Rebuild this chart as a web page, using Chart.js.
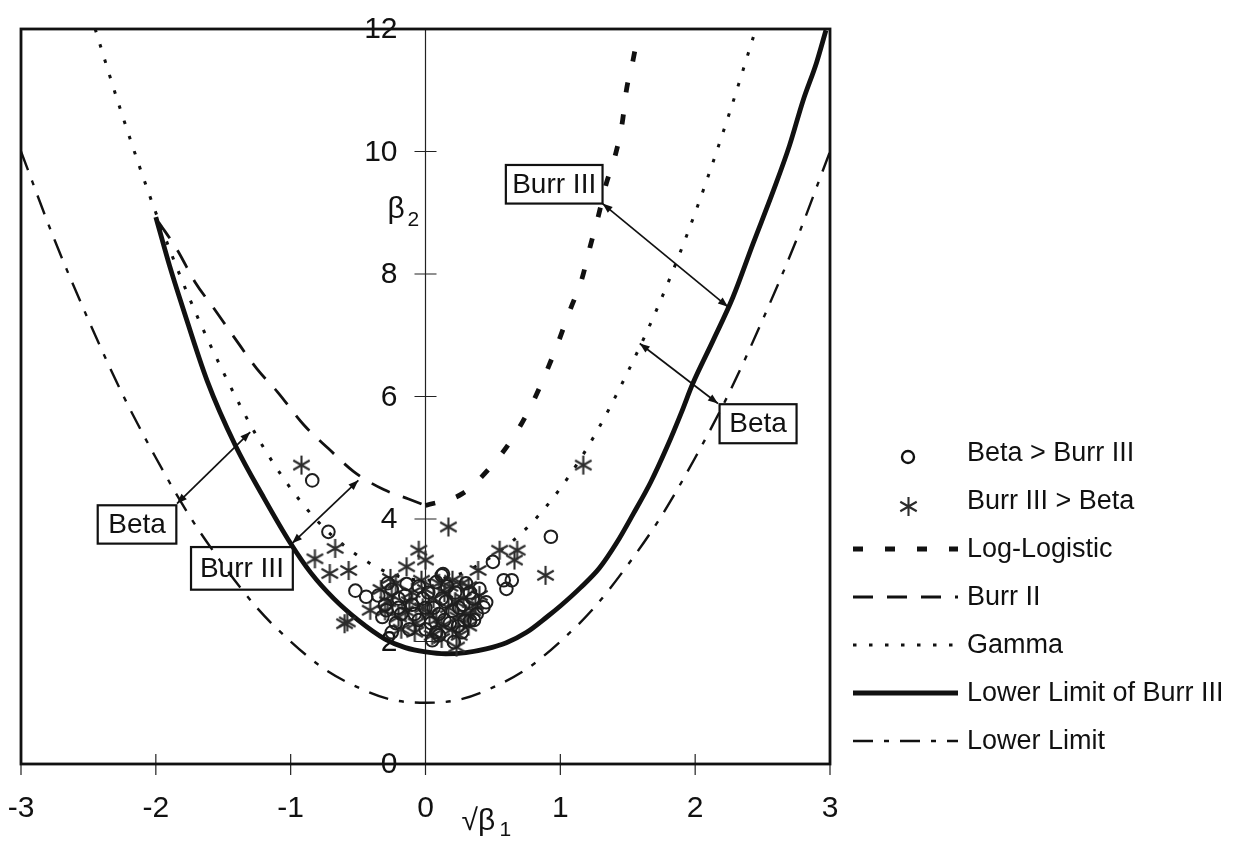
<!DOCTYPE html>
<html>
<head>
<meta charset="utf-8">
<script src="https://cdn.jsdelivr.net/npm/chart.js@4.4.1/dist/chart.umd.min.js"></script>
<style>
  html, body { margin: 0; padding: 0; background: #fff; }
</style>
</head>
<body>
<canvas id="chart" width="1241" height="846"></canvas>
<script>
const FONT = "'Liberation Sans', Arial, Helvetica, sans-serif";

const xTicks = [-3, -2, -1, 0, 1, 2, 3];
const yTicks = [0, 2, 4, 6, 8, 10, 12];

// sample points, (sqrt b1, b2)
const betaBetter = [
  [-0.84, 4.63], [-0.72, 3.79], [-0.52, 2.83], [-0.44, 2.73], [-0.29, 2.51], [-0.25, 2.15],
  [0.05, 2.02], [0.21, 1.99], [0.12, 3.08], [0.08, 2.97], [-0.14, 2.94], [0.13, 3.10],
  [0.50, 3.30], [0.58, 3.00], [0.64, 3.00], [0.60, 2.86], [0.40, 2.86], [0.45, 2.64],
  [0.43, 2.56], [0.33, 2.34], [0.29, 2.34], [0.93, 3.71],
  [-0.35, 2.75], [-0.30, 2.60], [-0.20, 2.70], [-0.18, 2.45], [-0.10, 2.60], [-0.05, 2.35],
  [0.00, 2.55], [0.02, 2.80], [0.10, 2.45], [0.15, 2.65], [0.18, 2.30], [0.22, 2.80],
  [0.25, 2.55], [0.30, 2.95], [0.35, 2.70], [0.38, 2.45], [-0.12, 2.20], [0.08, 2.15],
  [-0.25, 2.85], [0.27, 2.15], [0.16, 2.90], [-0.02, 2.70],
  [-0.32, 2.40], [-0.22, 2.30], [-0.08, 2.45], [0.04, 2.30], [0.12, 2.70], [0.20, 2.50],
  [0.28, 2.60], [0.33, 2.80], [-0.15, 2.75], [-0.05, 2.90], [0.06, 2.55], [0.14, 2.35],
  [0.24, 2.25], [-0.28, 2.95], [0.36, 2.35], [0.10, 2.10], [-0.20, 2.55], [0.00, 2.20]
];
const burrBetter = [
  [-0.92, 4.88], [0.17, 3.87], [0.89, 3.08], [1.17, 4.88], [-0.67, 3.52], [-0.82, 3.35],
  [-0.57, 3.16], [-0.71, 3.11], [-0.58, 2.32], [-0.41, 2.51], [-0.05, 3.49], [0.00, 3.33],
  [-0.14, 3.22], [-0.26, 3.03], [0.55, 3.49], [0.68, 3.49], [0.66, 3.33], [0.39, 3.16],
  [0.23, 1.91], [-0.60, 2.29],
  [-0.33, 2.85], [-0.28, 2.65], [-0.22, 2.95], [-0.15, 2.50], [-0.10, 2.80], [-0.07, 2.30],
  [-0.03, 3.00], [0.03, 2.45], [0.06, 2.70], [0.10, 2.95], [0.12, 2.25], [0.17, 2.55],
  [0.20, 3.00], [0.24, 2.40], [0.28, 2.70], [0.32, 2.90], [0.35, 2.50], [0.40, 2.75],
  [-0.18, 2.20], [0.05, 2.10], [0.25, 2.10], [0.20, 2.20],
  [-0.30, 2.50], [-0.20, 2.40], [-0.12, 2.65], [-0.02, 2.55], [0.08, 2.35], [0.14, 2.80],
  [0.22, 2.65], [0.30, 2.45], [0.37, 2.60], [-0.25, 2.75], [0.00, 2.85], [0.18, 2.90],
  [0.27, 2.95], [0.12, 2.05], [-0.08, 2.15], [0.32, 2.25]
];

// boundary curves
const logLogistic = [
  [0, 4.22], [0.27, 4.41], [0.48, 4.84], [0.65, 5.33], [0.79, 5.88], [0.89, 6.37],
  [0.98, 6.86], [1.07, 7.40], [1.16, 7.92], [1.22, 8.44], [1.28, 8.93], [1.34, 9.47],
  [1.41, 9.96], [1.46, 10.48], [1.49, 11.0], [1.54, 11.5], [1.57, 11.85]
];
const burrII = [
  [-1.98, 8.85], [-1.84, 8.39], [-1.71, 7.87], [-1.57, 7.44], [-1.42, 6.97], [-1.25, 6.45],
  [-1.10, 6.08], [-0.90, 5.53], [-0.72, 5.15], [-0.53, 4.77], [-0.31, 4.48], [-0.13, 4.33],
  [0, 4.22]
];
const gamma = [
  [-2.45, 12], [-2.25, 10.6], [-2, 9], [-1.75, 7.6], [-1.5, 6.4], [-1.25, 5.35], [-1, 4.5],
  [-0.75, 3.85], [-0.5, 3.4], [-0.25, 3.1], [0, 3], [0.25, 3.1], [0.5, 3.4], [0.75, 3.85],
  [1, 4.5], [1.25, 5.35], [1.5, 6.4], [1.75, 7.6], [2, 9], [2.25, 10.6], [2.45, 12]
];
const burrIIILimit = [
  [-2.0, 8.93], [-1.9, 8.15], [-1.8, 7.45], [-1.62, 6.26], [-1.41, 5.2], [-1.2, 4.35],
  [-1.0, 3.6], [-0.85, 3.12], [-0.68, 2.7], [-0.5, 2.35], [-0.3, 2.04], [-0.15, 1.9],
  [0, 1.83], [0.15, 1.8], [0.3, 1.82], [0.45, 1.88], [0.6, 1.98], [0.75, 2.15], [0.9, 2.4],
  [1.0, 2.58], [1.15, 2.88], [1.29, 3.2], [1.42, 3.62], [1.54, 4.08], [1.67, 4.6],
  [1.79, 5.17], [1.9, 5.75], [1.98, 6.2], [2.13, 6.9], [2.28, 7.62], [2.43, 8.5],
  [2.58, 9.36], [2.7, 10.1], [2.8, 10.83], [2.9, 11.45], [2.97, 11.98]
];
const lowerLimit = [
  [-3, 10], [-2.75, 8.55], [-2.5, 7.25], [-2.25, 6.05], [-2, 5], [-1.75, 4.05], [-1.5, 3.25],
  [-1.25, 2.55], [-1, 2], [-0.75, 1.55], [-0.5, 1.25], [-0.25, 1.05], [0, 1], [0.25, 1.05],
  [0.5, 1.25], [0.75, 1.55], [1, 2], [1.25, 2.55], [1.5, 3.25], [1.75, 4.05], [2, 5],
  [2.25, 6.05], [2.5, 7.25], [2.75, 8.55], [3, 10]
];

const seriesLabels = ['Beta > Burr III', 'Burr III > Beta', 'Log-Logistic', 'Burr II',
  'Gamma', 'Lower Limit of Burr III', 'Lower Limit'];

// labelled boxes with double arrows, in data units
const callouts = [
  { text: 'Burr III', box: [0.596, 9.78, 1.313, 9.15], from: [1.313, 9.15], to: [2.243, 7.464] },
  { text: 'Beta', box: [2.181, 5.874, 2.752, 5.237], from: [2.169, 5.886], to: [1.589, 6.866] },
  { text: 'Beta', box: [-2.431, 4.224, -1.848, 3.598], from: [-1.843, 4.252], to: [-1.3, 5.42] },
  { text: 'Burr III', box: [-1.739, 3.542, -0.984, 2.846], from: [-0.989, 3.603], to: [-0.498, 4.632] }
];

function asteriskImage(size, color, lw) {
  const c = document.createElement('canvas');
  c.width = c.height = size;
  const g = c.getContext('2d');
  const m = size / 2, r = size / 2 - 1;
  g.strokeStyle = color;
  g.lineWidth = lw;
  g.beginPath();
  for (let k = 0; k < 3; k++) {
    const a = Math.PI / 2 + k * Math.PI / 3;
    g.moveTo(m + r * Math.cos(a), m + r * Math.sin(a));
    g.lineTo(m - r * Math.cos(a), m - r * Math.sin(a));
  }
  g.stroke();
  return c;
}

const star = asteriskImage(21, '#2c2c2c', 2.1);
const toXY = pts => pts.map(([x, y]) => ({ x, y }));

function curve(label, pts, width, dash) {
  return {
    label,
    data: toXY(pts),
    showLine: true,
    pointRadius: 0,
    pointHoverRadius: 0,
    borderColor: '#111',
    backgroundColor: '#111',
    borderWidth: width,
    borderDash: dash,
    borderCapStyle: 'butt',
    cubicInterpolationMode: 'monotone',
    fill: false
  };
}

const datasets = [
  {
    label: seriesLabels[0], data: toXY(betaBetter), pointStyle: 'circle', pointRadius: 6.3,
    borderColor: '#1e1e1e', borderWidth: 2, backgroundColor: 'rgba(0,0,0,0)'
  },
  {
    label: seriesLabels[1], data: toXY(burrBetter), pointStyle: star, pointRadius: 10
  },
  curve(seriesLabels[2], logLogistic, 4.8, [10, 22]),
  curve(seriesLabels[3], burrII, 2.8, [20, 14]),
  curve(seriesLabels[4], gamma, 3, [3.5, 12.5]),
  curve(seriesLabels[5], burrIIILimit, 4.8, []),
  curve(seriesLabels[6], lowerLimit, 2.4, [20, 11, 5, 11])
];

function arrowHead(ctx, x1, y1, x2, y2) {
  const a = Math.atan2(y2 - y1, x2 - x1);
  const len = 10, w = 3.8;
  ctx.beginPath();
  ctx.moveTo(x2, y2);
  ctx.lineTo(x2 - len * Math.cos(a) + w * Math.sin(a), y2 - len * Math.sin(a) - w * Math.cos(a));
  ctx.lineTo(x2 - len * Math.cos(a) - w * Math.sin(a), y2 - len * Math.sin(a) + w * Math.cos(a));
  ctx.closePath();
  ctx.fill();
}

// axis through x = 0, crossing tick marks and tick labels
const axes = {
  id: 'axes',
  beforeDatasetsDraw(chart) {
    const { ctx, chartArea: a, scales: { x, y } } = chart;
    const x0 = x.getPixelForValue(0);
    ctx.save();
    ctx.strokeStyle = '#222';
    ctx.fillStyle = '#111';
    ctx.lineWidth = 1.2;
    ctx.beginPath();
    ctx.moveTo(x0, a.top);
    ctx.lineTo(x0, a.bottom);
    yTicks.forEach(v => { ctx.moveTo(x0 - 11, y.getPixelForValue(v)); ctx.lineTo(x0 + 11, y.getPixelForValue(v)); });
    xTicks.forEach(v => { ctx.moveTo(x.getPixelForValue(v), a.bottom - 10); ctx.lineTo(x.getPixelForValue(v), a.bottom + 11); });
    ctx.stroke();

    ctx.font = '30px ' + FONT;
    ctx.textBaseline = 'middle';
    ctx.textAlign = 'right';
    yTicks.forEach(v => ctx.fillText(String(v), x0 - 28, y.getPixelForValue(v) + 1));
    ctx.textAlign = 'center';
    xTicks.forEach(v => ctx.fillText(String(v), x.getPixelForValue(v), a.bottom + 45));

    ctx.textAlign = 'left';
    ctx.textBaseline = 'alphabetic';
    ctx.font = '30px ' + FONT;
    ctx.fillText('\u03B2', x0 - 38, y.getPixelForValue(9) + 5);
    ctx.font = '21px ' + FONT;
    ctx.fillText('2', x0 - 18, y.getPixelForValue(9) + 13);
    ctx.font = '30px ' + FONT;
    ctx.fillText('\u221A\u03B2', x0 + 36, a.bottom + 66);
    ctx.font = '21px ' + FONT;
    ctx.fillText('1', x0 + 74, a.bottom + 72);
    ctx.restore();
  }
};

// frame, callouts and the key
const decor = {
  id: 'decor',
  afterDraw(chart) {
    const { ctx, chartArea: a, scales: { x, y } } = chart;
    const px = v => x.getPixelForValue(v);
    const py = v => y.getPixelForValue(v);
    ctx.save();
    ctx.strokeStyle = '#111';
    ctx.fillStyle = '#111';

    ctx.lineWidth = 2.8;
    ctx.strokeRect(a.left, a.top, a.right - a.left, a.bottom - a.top);

    ctx.font = '28px ' + FONT;
    ctx.textAlign = 'center';
    ctx.textBaseline = 'middle';
    callouts.forEach(c => {
      const [bx0, by0, bx1, by1] = c.box;
      ctx.lineWidth = 2.2;
      ctx.strokeRect(px(bx0), py(by0), px(bx1) - px(bx0), py(by1) - py(by0));
      ctx.fillText(c.text, (px(bx0) + px(bx1)) / 2, (py(by0) + py(by1)) / 2 + 1);
      const fx = px(c.from[0]), fy = py(c.from[1]), tx = px(c.to[0]), ty = py(c.to[1]);
      ctx.lineWidth = 1.7;
      ctx.beginPath();
      ctx.moveTo(fx, fy);
      ctx.lineTo(tx, ty);
      ctx.stroke();
      arrowHead(ctx, tx, ty, fx, fy);
      arrowHead(ctx, fx, fy, tx, ty);
    });

    const keyX = 853, keyW = 105, textX = 967;
    ctx.font = '27px ' + FONT;
    ctx.textAlign = 'left';
    ctx.textBaseline = 'middle';
    chart.data.datasets.forEach((ds, i) => {
      const ky = 453 + i * 48;
      if (ds.showLine) {
        ctx.save();
        ctx.lineWidth = ds.borderWidth;
        ctx.setLineDash(ds.borderDash || []);
        ctx.beginPath();
        ctx.moveTo(keyX, ky);
        ctx.lineTo(keyX + keyW, ky);
        ctx.stroke();
        ctx.restore();
      } else if (ds.pointStyle === 'circle') {
        ctx.lineWidth = 2.4;
        ctx.beginPath();
        ctx.arc(908, ky + 4, 6, 0, Math.PI * 2);
        ctx.stroke();
      } else {
        ctx.drawImage(ds.pointStyle, 898, ky - 5, 21, 21);
      }
      ctx.fillText(ds.label, textX, ky + 1);
    });
    ctx.restore();
  }
};

new Chart(document.getElementById('chart'), {
  type: 'scatter',
  data: { datasets },
  options: {
    responsive: false,
    animation: false,
    devicePixelRatio: 1,
    layout: { padding: { left: 21, top: 29, right: 411, bottom: 82 } },
    plugins: { legend: { display: false }, tooltip: { enabled: false } },
    scales: {
      x: { type: 'linear', display: false, min: -3, max: 3 },
      y: { type: 'linear', display: false, min: 0, max: 12 }
    }
  },
  plugins: [axes, decor]
});
</script>
</body>
</html>
